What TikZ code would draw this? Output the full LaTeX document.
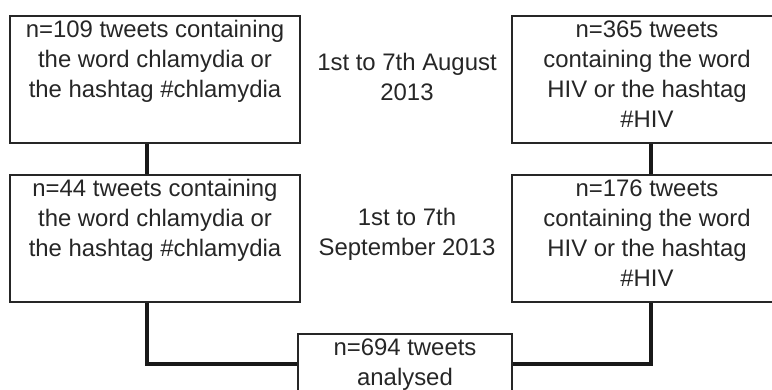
\documentclass[tikz,border=0pt]{standalone}
\usepackage{fontspec}
\setmainfont{Liberation Sans}
\usepackage{xcolor}
\usepackage{tikz}
\usetikzlibrary{calc, positioning}

\begin{document}
\begin{tikzpicture}[auto, font=\fontsize{13.6}{17.1}\selectfont, text=black!85]
		\tikzstyle{tbox} = [draw=black!85, line width=0.9pt, rectangle, align=center, anchor=north, inner sep=0pt]
		\tikzstyle{threelines} = [text height=1.64cm, text depth=0.9cm]
		\tikzstyle{fourlines} = [text height=2.24cm, text depth=0.3cm]
		\tikzstyle{period} = [align=center]
		\tikzstyle{link} = [line width=2.2pt, black!90]
		
		\clip (0, 0) rectangle (15.44, -7.8);
		
		\node[tbox, threelines, minimum width=5.8cm]	at (3.1, -0.3) 		(c1) 	{n=109 tweets containing\\the word chlamydia or\\the hashtag \#chlamydia};
		\node[tbox, threelines, minimum width=5.8cm]	at (3.1, -3.48) 	(c2) 	{n=44 tweets containing\\the word chlamydia or\\the hashtag \#chlamydia};
		
		\node[tbox, fourlines, minimum width=5.4cm]	at (12.94, -0.3) 	(h1) 	{n=365 tweets\\containing the word\\HIV or the hashtag\\\#HIV};
		\node[tbox, fourlines, minimum width=5.4cm]	at (12.94, -3.48) 	(h2) 	{n=176 tweets\\containing the word\\HIV or the hashtag\\\#HIV};
		
		\node[period]	at (8.14, -1.53) 	(p1) 	{1st to 7th August\\2013};
		\node[period]	at (8.14, -4.69) 	(p2) 	{1st to 7th\\September 2013};
		
		\node[tbox, minimum width=4.28cm, text height=1.04cm, text depth=0.16cm]	at (8.1, -6.66) 	(all) 	{n=694 tweets\\analysed};
		
		\draw [link] ([xshift=-0.16cm]c1.south) -- ([xshift=-0.16cm]c2.north);
		\draw [link] ([xshift=0.08cm]h1.south) -- ([xshift=0.08cm]h2.north);
		\draw [link] ([xshift=-0.16cm]c2.south) |- (all.west);
		\draw [link] ([xshift=0.08cm]h2.south) |- (all.east);
	\end{tikzpicture}
\end{document}
